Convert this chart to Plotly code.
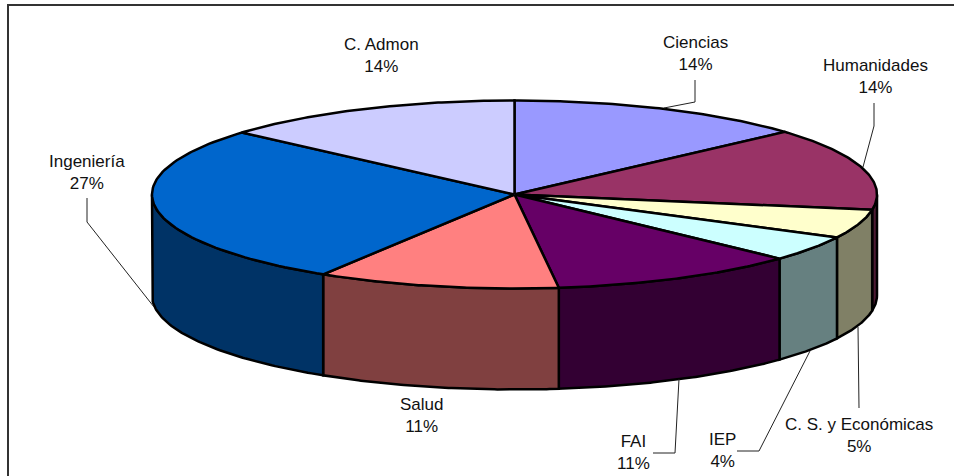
import math
import plotly.graph_objects as go

# Clockwise from 12 o'clock
categories = ["Ciencias", "Humanidades", "C. S. y Económicas", "IEP", "FAI", "Salud", "Ingeniería", "C. Admon"]
values = [13.4, 14.2, 4.95, 4.4, 11.1, 10.8, 27.6, 13.55]
percent_labels = ["14%", "14%", "5%", "4%", "11%", "11%", "27%", "14%"]
top_colors = ["#9999FF", "#993366", "#FFFFCC", "#CCFFFF", "#660066", "#FF8080", "#0066CC", "#CCCCFF"]
side_colors = ["#4D4D80", "#4D1A33", "#808066", "#668080", "#330033", "#804040", "#003366", "#666680"]
label_x = [695, 875, 859, 722, 633, 421, 87, 381]
label_y = [53, 76, 435, 450, 452, 415, 172, 55]

CX, CY, RX, RY, DEPTH = 514.5, 194.5, 362.5, 94, 101
W, H = 954, 476


def pt(theta, dz=0.0):
    return CX + RX * math.sin(theta), CY - RY * math.cos(theta) + dz


def arc(a, b, dz=0.0, n=80):
    pts = [pt(a + (b - a) * i / n, dz) for i in range(n + 1)]
    return [p[0] for p in pts], [p[1] for p in pts]


total = sum(values)
starts, ends = [], []
acc = 0.0
for v in values:
    starts.append(2 * math.pi * acc / total)
    acc += v
    ends.append(2 * math.pi * acc / total)

fig = go.Figure()


def poly(xs, ys, color, name):
    fig.add_trace(go.Scatter(x=xs, y=ys, mode="lines", fill="toself", fillcolor=color,
                             line=dict(color="black", width=2.5), name=name,
                             hoverinfo="name", showlegend=False))


# Visible side walls: the front half of the rim (angles between 90 and 270 degrees)
for s, e, c, name in zip(starts, ends, side_colors, categories):
    a, b = max(s, math.pi / 2), min(e, 3 * math.pi / 2)
    if b > a:
        x1, y1 = arc(a, b)
        x2, y2 = arc(b, a, DEPTH)
        poly(x1 + x2 + [x1[0]], y1 + y2 + [y1[0]], c, name)

# Top faces
for s, e, c, name in zip(starts, ends, top_colors, categories):
    x1, y1 = arc(s, e)
    poly([CX] + x1 + [CX], [CY] + y1 + [CY], c, name)

annotations = [
    dict(x=x, y=y, text=f"{n}<br>{p}", showarrow=False, xref="x", yref="y",
         font=dict(family="Liberation Sans, Arial, sans-serif", size=17, color="#111111"),
         align="center")
    for x, y, n, p in zip(label_x, label_y, categories, percent_labels)
]


def leader(points):
    fig.add_trace(go.Scatter(x=[p[0] for p in points], y=[p[1] for p in points], mode="lines",
                             line=dict(color="#222222", width=1), hoverinfo="skip", showlegend=False))


leader([(664, 108), (695, 102), (695, 80)])          # Ciencias
leader([(863, 167), (874, 126), (874, 103)])         # Humanidades
leader([(858, 327), (859, 408)])                     # C. S. y Económicas
leader([(810, 351), (759, 451), (737, 451)])         # IEP
leader([(679, 379), (675, 453), (653, 453)])         # FAI
leader([(154, 307), (87, 222), (87, 198)])           # Ingeniería

fig.update_layout(
    width=W, height=H, margin=dict(l=0, r=0, t=0, b=0),
    paper_bgcolor="white", plot_bgcolor="white", showlegend=False,
    xaxis=dict(range=[0, W], visible=False, fixedrange=True),
    yaxis=dict(range=[H, 0], visible=False, fixedrange=True),
    annotations=annotations,
    shapes=[dict(type="rect", xref="x", yref="y", x0=8, y0=5, x1=W + 10, y1=H + 10,
                 line=dict(color="#333333", width=2), fillcolor="rgba(0,0,0,0)", layer="below")],
)
fig.write_html("out.html", config={"displayModeBar": False},
               post_script="document.body.style.margin='0';document.documentElement.style.overflow='hidden';")
